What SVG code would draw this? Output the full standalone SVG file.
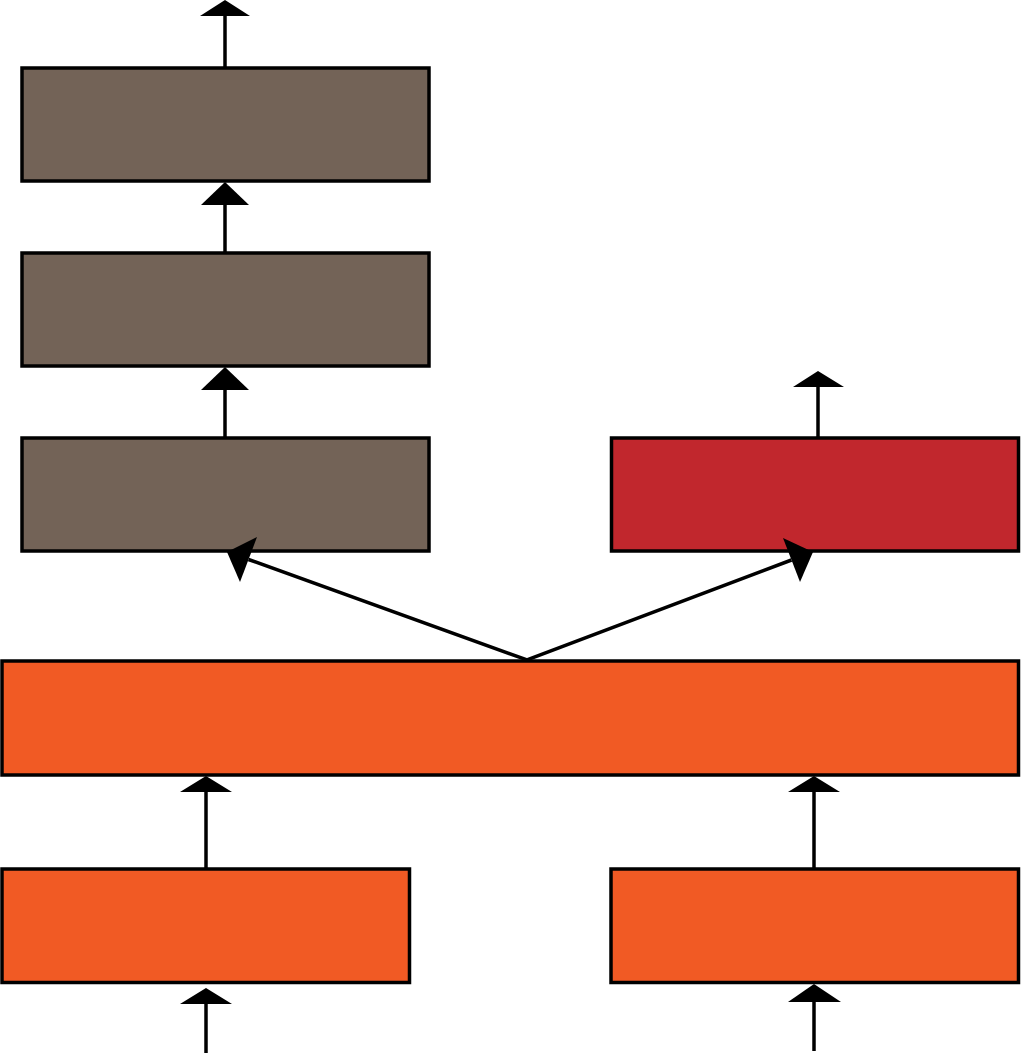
<svg xmlns="http://www.w3.org/2000/svg" width="1021" height="1055" viewBox="0 0 1021 1055">
<style>
.box{stroke:#000;stroke-width:3.5}
.brown{fill:#736357}
.red{fill:#C1272D}
.orange{fill:#F15A24}
.line{stroke:#000;stroke-width:3.5;fill:none}
.head{fill:#000}
</style>
<rect width="1021" height="1055" fill="#fff"/>
<g id="brown-top"><rect class="box brown" x="22" y="68" width="407" height="113"/></g>
<g id="brown-mid"><rect class="box brown" x="22" y="253" width="407" height="113"/></g>
<g id="brown-bottom"><rect class="box brown" x="22" y="438" width="407" height="113"/></g>
<g id="red-box"><rect class="box red" x="611.5" y="438" width="407" height="113"/></g>
<g id="wide-box"><rect class="box orange" x="2" y="661" width="1016.5" height="114"/></g>
<g id="bottom-left"><rect class="box orange" x="2" y="869" width="407.5" height="113.5"/></g>
<g id="bottom-right"><rect class="box orange" x="611" y="869" width="407.5" height="113.5"/></g>
<g id="connectors">
<line class="line" x1="225" y1="14" x2="225" y2="67"/>
<polygon class="head" points="225,0 250,16 200,16"/>
<line class="line" x1="225" y1="203" x2="225" y2="252"/>
<polygon class="head" points="225,182 249,205 201,205"/>
<line class="line" x1="225" y1="388" x2="225" y2="437"/>
<polygon class="head" points="225,367 249,390 201,390"/>
<line class="line" x1="818" y1="385" x2="818" y2="437"/>
<polygon class="head" points="818,371 844,387 793,387"/>
<polyline class="line" points="248.5,559.5 527,660 791.5,560"/>
<polygon class="head" points="227,552 257,537 240,582"/>
<polygon class="head" points="813,552 783,538 800,582"/>
<line class="line" x1="206" y1="790" x2="206" y2="868"/>
<polygon class="head" points="206,776 232,792 180,792"/>
<line class="line" x1="814" y1="790" x2="814" y2="868"/>
<polygon class="head" points="814,776 840,792 788,792"/>
<line class="line" x1="206" y1="1002" x2="206" y2="1053"/>
<polygon class="head" points="206,988 232,1004 180,1004"/>
<line class="line" x1="814" y1="1000" x2="814" y2="1051"/>
<polygon class="head" points="814,984 841,1002 788,1002"/>
</g>
</svg>
